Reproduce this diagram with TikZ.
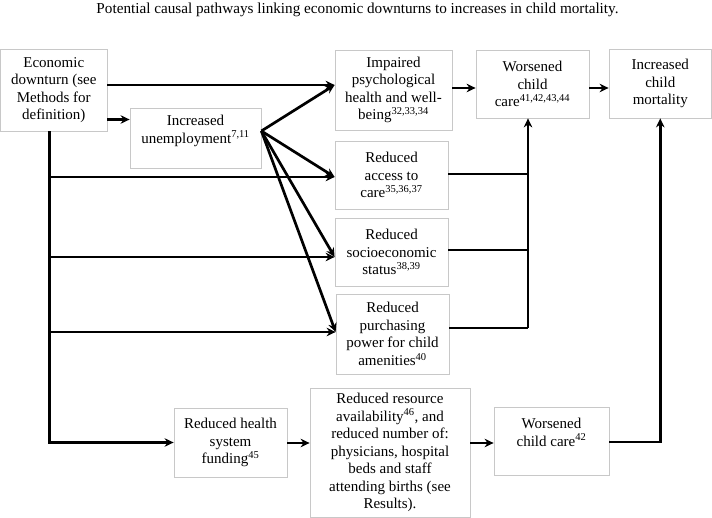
\documentclass[tikz,border=0pt]{standalone}
\usepackage{fontspec}
\setmainfont{Liberation Serif}
\usetikzlibrary{arrows.meta,calc}
\definecolor{boxgray}{HTML}{C8C8C8}
\newcommand\boxfont{\fontsize{15}{17.5}\selectfont}
\newcommand\titlefont{\fontsize{15.2}{17}\selectfont}
\newcommand\sups[1]{\textsuperscript{#1}}
\begin{document}
\begin{tikzpicture}[x=1pt,y=-1pt,
  box/.style={draw=boxgray, line width=0.8pt, inner sep=0pt, align=center, font=\boxfont},
  conn/.style={line width=2.7pt, black},
  arr/.style={conn, -{Stealth[length=9pt,width=8.5pt]}}
]
\useasboundingbox (0,0) rectangle (712,518);

\node[font=\titlefont] (title) at (357.5,10) {Potential causal pathways linking economic downturns to increases in child mortality.};

% boxes
\node[box, minimum width=106.5pt, minimum height=82pt] (econ) at (53.75,90) {Economic\\downturn (see\\Methods for\\definition)};
\node[box, minimum width=131pt, minimum height=60pt] (unemp) at (195.5,138) {Increased\\unemployment\sups{7,11}\\~};
\node[box, minimum width=117pt, minimum height=80pt] (psych) at (393.5,90) {Impaired\\psychological\\health and well-\\being\sups{32,33,34}};
\node[box, minimum width=113pt, minimum height=68pt] (wcare) at (532.5,84) {Worsened\\child\\care\sups{41,42,43,44}};
\node[box, minimum width=102.5pt, minimum height=69pt] (mort) at (660.25,83.5) {Increased\\child\\mortality};
\node[box, minimum width=113pt, minimum height=68pt] (access) at (391.5,175) {Reduced\\access to\\care\sups{35,36,37}};
\node[box, minimum width=113pt, minimum height=68pt] (socio) at (391.5,252) {Reduced\\socioeconomic\\status\sups{38,39}};
\node[box, minimum width=113pt, minimum height=80pt] (purch) at (392.5,334) {Reduced\\purchasing\\power for child\\amenities\sups{40}};
\node[box, minimum width=113pt, minimum height=69pt] (fund) at (230.5,442.5) {Reduced health\\system\\funding\sups{45}};
\node[box, minimum width=160pt, minimum height=129pt] (resrc) at (390,452.5) {Reduced resource\\availability\sups{46}, and\\reduced number of:\\physicians, hospital\\beds and staff\\attending births (see\\Results).};
\node[box, minimum width=115pt, minimum height=68pt] (wcare2) at (551.5,441) {Worsened\\child care\sups{42}\\~};

% helper coordinates
\coordinate (eA) at ([yshift=5pt]econ.east);
\coordinate (eB) at ([yshift=-29.5pt]econ.east);
\coordinate (uO) at ([yshift=7pt]unemp.east);
\coordinate (pIn) at ([yshift=5pt]psych.west);
\coordinate (aIn) at ([yshift=-2pt]access.west);
\coordinate (sIn) at ([yshift=-5pt]socio.west);
\coordinate (qIn) at ([yshift=2pt]purch.west);
\coordinate (spTop) at ([xshift=-4.5pt]econ.south);
\coordinate (spBot) at (spTop |- fund.west);
\coordinate (rX) at ([xshift=-4.5pt]wcare.south);
\coordinate (aOut) at ([yshift=1pt]access.east);
\coordinate (sOut) at ([yshift=2pt]socio.east);
\coordinate (qOut) at ([yshift=6pt]purch.east);
\coordinate (pOut) at ([yshift=2pt]psych.east);
\coordinate (wOut) at ([yshift=-4pt]wcare.east);
\coordinate (bOut) at ([yshift=-1pt]wcare2.east);
\coordinate (fOut) at ([yshift=-0.5pt]fund.east);
\coordinate (rOut) at ([yshift=9.5pt]resrc.east);

% top connectors
\draw[arr] (eA) -- (pIn);
\draw[arr] (eB) -- (unemp.west |- eB);
\draw[arr] (uO) -- (pIn);
\draw[arr] (uO) -- (aIn);
\draw[arr] (uO) -- (sIn);
\draw[arr] (uO) -- (qIn);

% left spine
\draw[arr] (spTop) -- (spBot) -- (fund.west);
\draw[arr] (spTop |- aIn) -- (aIn);
\draw[arr] (spTop |- sIn) -- (sIn);
\draw[arr] (spTop |- qIn) -- (qIn);

% right collector
\draw[conn] (aOut) -- (rX |- aOut);
\draw[conn] (sOut) -- (rX |- sOut);
\draw[conn] (qOut) -- (rX |- qOut);
\draw[arr] (rX |- qOut) -- (rX);

\draw[arr] (pOut) -- (wcare.west |- pOut);
\draw[arr] (wOut) -- (mort.west |- wOut);

% bottom row
\draw[arr] (fOut) -- (resrc.west |- fOut);
\draw[arr] (rOut) -- (wcare2.west |- rOut);
\draw[arr] (bOut) -- (mort.south |- bOut) -- (mort.south);
\end{tikzpicture}
\end{document}
